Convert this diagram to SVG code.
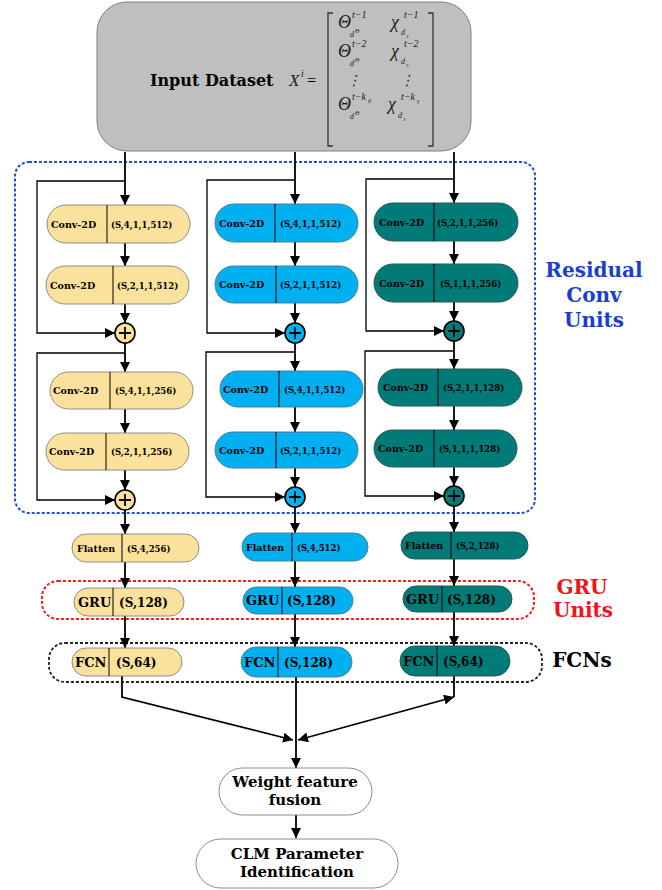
<svg xmlns="http://www.w3.org/2000/svg" width="662" height="890" viewBox="0 0 662 890">
<style>
.ln{stroke:#000;stroke-width:1.8;fill:none}
.lp{stroke:#000;stroke-width:1.3;fill:none}
.y{fill:#FBE29C;stroke:#8c8c8c;stroke-width:1}
.b{fill:#00B0F0;stroke:#4f7f92;stroke-width:1}
.t{fill:#007B78;stroke:#2f5756;stroke-width:1}
.dv{stroke:#000;stroke-width:1}
.pc{stroke:#000;stroke-width:1.6}
.pl{stroke:#000;stroke-width:1.8}
text{font-family:"DejaVu Serif","Liberation Serif",serif;font-weight:bold;fill:#000}
.c{font-size:9.5px}
.p{font-size:8.5px}
.g{font-size:13px}
.gp{font-size:12px}
.m{font-family:"Liberation Serif","DejaVu Serif",serif;font-weight:normal;font-style:italic;fill:#1a1a1a}
.lab{font-size:20px;text-anchor:middle}
.w{font-size:15px;text-anchor:middle}
</style>
<defs>
<marker id="ah" markerWidth="10" markerHeight="10" refX="10" refY="5" orient="auto-start-reverse" markerUnits="userSpaceOnUse"><path d="M0,0 L10,5 L0,10 z" fill="#000"/></marker>
</defs>

<g id="input">
<rect x="97" y="2" width="374" height="149" rx="30" fill="#BFBFBF" stroke="#808080" stroke-width="1"/>
<text x="150" y="86" style="font-size:16px">Input Dataset</text>
<text class="m" x="289" y="86" style="font-size:17px">X</text>
<text class="m" x="301" y="77" style="font-size:10px">i</text>
<text x="307" y="86" style="font-size:16px;font-weight:normal;font-family:'Liberation Serif',serif">=</text>
<path d="M333,13 H328 V146 H333 M428,13 H433 V146 H428" stroke="#333" stroke-width="1.3" fill="none"/>
<text class="m" x="338" y="28" style="font-size:18px">Θ</text>
<text class="m" x="352" y="18" style="font-size:10px">t−1</text>
<text class="m" x="350" y="37" style="font-size:8px">d</text>
<text class="m" x="355" y="33" style="font-size:6px">Θ</text>
<text class="m" x="391" y="28" style="font-size:18px">χ</text>
<text class="m" x="404" y="18" style="font-size:10px">t−1</text>
<text class="m" x="401" y="35" style="font-size:8px">d</text>
<text class="m" x="406" y="38" style="font-size:6px;fill:#1f4fbf">x</text>
<text class="m" x="338" y="57" style="font-size:18px">Θ</text>
<text class="m" x="352" y="47" style="font-size:10px">t−2</text>
<text class="m" x="350" y="66" style="font-size:8px">d</text>
<text class="m" x="355" y="62" style="font-size:6px">Θ</text>
<text class="m" x="391" y="57" style="font-size:18px">χ</text>
<text class="m" x="404" y="47" style="font-size:10px">t−2</text>
<text class="m" x="401" y="64" style="font-size:8px">d</text>
<text class="m" x="406" y="67" style="font-size:6px;fill:#1f4fbf">x</text>
<text class="m" x="347" y="85" style="font-size:14px">⋮</text>
<text class="m" x="400" y="85" style="font-size:14px">⋮</text>
<text class="m" x="338" y="110" style="font-size:18px">Θ</text>
<text class="m" x="352" y="100" style="font-size:10px">t−k</text>
<text class="m" x="368" y="103" style="font-size:6px">θ</text>
<text class="m" x="350" y="119" style="font-size:8px">d</text>
<text class="m" x="355" y="115" style="font-size:6px">Θ</text>
<text class="m" x="388" y="110" style="font-size:18px">χ</text>
<text class="m" x="401" y="100" style="font-size:10px">t−k</text>
<text class="m" x="417" y="103" style="font-size:6px">γ</text>
<text class="m" x="398" y="118" style="font-size:8px">d</text>
<text class="m" x="403" y="121" style="font-size:6px;fill:#1f4fbf">x</text>
</g>

<g id="groups">
<rect x="15" y="162" width="520" height="351" rx="14" fill="none" stroke="#1F4FD8" stroke-width="2" stroke-dasharray="3,2"/>
<rect x="42" y="581" width="492" height="38" rx="16" fill="none" stroke="#FF1A1A" stroke-width="2" stroke-dasharray="3,2"/>
<rect x="49" y="643" width="493" height="39" rx="16" fill="none" stroke="#222" stroke-width="1.8" stroke-dasharray="3,2"/>
<text class="lab" x="594" y="277" style="fill:#1A3FCF">Residual</text>
<text class="lab" x="594" y="302" style="fill:#1A3FCF">Conv</text>
<text class="lab" x="594" y="327" style="fill:#1A3FCF">Units</text>
<text class="lab" x="582" y="594" style="fill:#F01414">GRU</text>
<text class="lab" x="583" y="617" style="fill:#F01414">Units</text>
<text class="lab" x="582" y="667">FCNs</text>
</g>

<g id="connectors">
<path class="ln" d="M125,152 V205" marker-end="url(#ah)"/>
<path class="lp" d="M125,181 H37 V333 H115" marker-end="url(#ah)"/>
<path class="ln" d="M125,243 V266" marker-end="url(#ah)"/>
<path class="ln" d="M125,304 V323" marker-end="url(#ah)"/>
<path class="ln" d="M125,343 V372" marker-end="url(#ah)"/>
<path class="lp" d="M125,353 H37 V500 H115" marker-end="url(#ah)"/>
<path class="ln" d="M125,409 V433" marker-end="url(#ah)"/>
<path class="ln" d="M125,470 V490" marker-end="url(#ah)"/>
<path class="ln" d="M125,510 V534" marker-end="url(#ah)"/>
<path class="ln" d="M125,562 V588" marker-end="url(#ah)"/>
<path class="ln" d="M125,616 V648" marker-end="url(#ah)"/>
<path class="ln" d="M122,676 V697 L293,740" marker-end="url(#ah)"/>
<path class="ln" d="M295,152 V204" marker-end="url(#ah)"/>
<path class="lp" d="M295,180 H207 V333 H285" marker-end="url(#ah)"/>
<path class="ln" d="M295,242 V266" marker-end="url(#ah)"/>
<path class="ln" d="M295,303 V323" marker-end="url(#ah)"/>
<path class="ln" d="M295,343 V371" marker-end="url(#ah)"/>
<path class="lp" d="M295,352 H206 V497 H285" marker-end="url(#ah)"/>
<path class="ln" d="M295,407 V432" marker-end="url(#ah)"/>
<path class="ln" d="M295,468 V487" marker-end="url(#ah)"/>
<path class="ln" d="M295,507 V533" marker-end="url(#ah)"/>
<path class="ln" d="M295,561 V587" marker-end="url(#ah)"/>
<path class="ln" d="M295,614 V647" marker-end="url(#ah)"/>
<path class="ln" d="M296,677 V768" marker-end="url(#ah)"/>
<path class="ln" d="M454,152 V203" marker-end="url(#ah)"/>
<path class="lp" d="M454,179 H366 V331 H444" marker-end="url(#ah)"/>
<path class="ln" d="M454,241 V264" marker-end="url(#ah)"/>
<path class="ln" d="M454,302 V321" marker-end="url(#ah)"/>
<path class="ln" d="M454,341 V369" marker-end="url(#ah)"/>
<path class="lp" d="M454,351 H365 V496 H444" marker-end="url(#ah)"/>
<path class="ln" d="M454,406 V430" marker-end="url(#ah)"/>
<path class="ln" d="M454,467 V486" marker-end="url(#ah)"/>
<path class="ln" d="M454,506 V532" marker-end="url(#ah)"/>
<path class="ln" d="M454,559 V586" marker-end="url(#ah)"/>
<path class="ln" d="M454,612 V646" marker-end="url(#ah)"/>
<path class="ln" d="M454,676 V697"/>
<path class="ln" d="M298,740 L454,697" marker-start="url(#ah)" marker-end="url(#ah)"/>
<path class="ln" d="M296,815 V838" marker-end="url(#ah)"/>
</g>

<g id="c1-conv1"><rect class="y" x="47" y="205" width="143" height="38" rx="19"/><line class="dv" x1="107" y1="205" x2="107" y2="243"/><text class="c" x="51" y="227.5">Conv-2D</text><text class="p" x="111" y="227.5">(S,4,1,1,512)</text></g>
<g id="c1-conv2"><rect class="y" x="46" y="266" width="143" height="38" rx="19"/><line class="dv" x1="113" y1="266" x2="113" y2="304"/><text class="c" x="50" y="288.5">Conv-2D</text><text class="p" x="117" y="288.5">(S,2,1,1,512)</text></g>
<g id="c1-add1"><circle class="y pc" cx="125" cy="333" r="10"/><path class="pl" d="M119,333 H131 M125,327 V339"/></g>
<g id="c1-conv3"><rect class="y" x="50" y="372" width="143" height="37" rx="18.5"/><line class="dv" x1="110" y1="372" x2="110" y2="409"/><text class="c" x="53" y="393.5">Conv-2D</text><text class="p" x="115" y="393.5">(S,4,1,1,256)</text></g>
<g id="c1-conv4"><rect class="y" x="46" y="433" width="143" height="37" rx="18.5"/><line class="dv" x1="106" y1="433" x2="106" y2="470"/><text class="c" x="49" y="454.5">Conv-2D</text><text class="p" x="111" y="454.5">(S,2,1,1,256)</text></g>
<g id="c1-add2"><circle class="y pc" cx="125" cy="500" r="10"/><path class="pl" d="M119,500 H131 M125,494 V506"/></g>
<g id="c1-flatten"><rect class="y" x="72" y="534" width="127" height="28" rx="14"/><line class="dv" x1="122" y1="534" x2="122" y2="562"/><text class="c" x="77" y="551.5">Flatten</text><text class="p" x="127" y="551.5">(S,4,256)</text></g>
<g id="c1-gru"><rect class="y" x="74" y="588" width="110" height="28" rx="14"/><line class="dv" x1="113" y1="588" x2="113" y2="616"/><text class="g" x="78" y="606.5">GRU</text><text class="gp" x="119" y="606.5">(S,128)</text></g>
<g id="c1-fcn"><rect class="y" x="72" y="648" width="110" height="28" rx="14"/><line class="dv" x1="109" y1="648" x2="109" y2="676"/><text class="g" x="75" y="666.5">FCN</text><text class="gp" x="116" y="666.5">(S,64)</text></g>

<g id="c2-conv1"><rect class="b" x="215" y="204" width="143" height="38" rx="19"/><line class="dv" x1="275" y1="204" x2="275" y2="242"/><text class="c" x="219" y="226.5">Conv-2D</text><text class="p" x="280" y="226.5">(S,4,1,1,512)</text></g>
<g id="c2-conv2"><rect class="b" x="215" y="266" width="143" height="37" rx="18.5"/><line class="dv" x1="276" y1="266" x2="276" y2="303"/><text class="c" x="219" y="288">Conv-2D</text><text class="p" x="280" y="288">(S,2,1,1,512)</text></g>
<g id="c2-add1"><circle class="b pc" cx="295" cy="333" r="10"/><path class="pl" d="M289,333 H301 M295,327 V339"/></g>
<g id="c2-conv3"><rect class="b" x="220" y="371" width="143" height="36" rx="18"/><line class="dv" x1="279" y1="371" x2="279" y2="407"/><text class="c" x="223" y="392.5">Conv-2D</text><text class="p" x="284" y="392.5">(S,4,1,1,512)</text></g>
<g id="c2-conv4"><rect class="b" x="215" y="432" width="143" height="36" rx="18"/><line class="dv" x1="276" y1="432" x2="276" y2="468"/><text class="c" x="219" y="453.5">Conv-2D</text><text class="p" x="280" y="453.5">(S,2,1,1,512)</text></g>
<g id="c2-add2"><circle class="b pc" cx="295" cy="497" r="10"/><path class="pl" d="M289,497 H301 M295,491 V503"/></g>
<g id="c2-flatten"><rect class="b" x="242" y="533" width="126" height="28" rx="14"/><line class="dv" x1="292" y1="533" x2="292" y2="561"/><text class="c" x="246" y="550.5">Flatten</text><text class="p" x="297" y="550.5">(S,4,512)</text></g>
<g id="c2-gru"><rect class="b" x="243" y="587" width="110" height="27" rx="13.5"/><line class="dv" x1="282" y1="587" x2="282" y2="614"/><text class="g" x="246" y="605">GRU</text><text class="gp" x="287" y="605">(S,128)</text></g>
<g id="c2-fcn"><rect class="b" x="241" y="647" width="111" height="30" rx="15"/><line class="dv" x1="278" y1="647" x2="278" y2="677"/><text class="g" x="244" y="666.5">FCN</text><text class="gp" x="284" y="666.5">(S,128)</text></g>

<g id="c3-conv1"><rect class="t" x="374" y="203" width="144" height="38" rx="19"/><line class="dv" x1="434" y1="203" x2="434" y2="241"/><text class="c" x="379" y="225.5">Conv-2D</text><text class="p" x="437" y="225.5">(S,2,1,1,256)</text></g>
<g id="c3-conv2"><rect class="t" x="374" y="264" width="144" height="38" rx="19"/><line class="dv" x1="434" y1="264" x2="434" y2="302"/><text class="c" x="379" y="286.5">Conv-2D</text><text class="p" x="440" y="286.5">(S,1,1,1,256)</text></g>
<g id="c3-add1"><circle class="t pc" cx="454" cy="331" r="10"/><path class="pl" d="M448,331 H460 M454,325 V337"/></g>
<g id="c3-conv3"><rect class="t" x="378" y="369" width="144" height="37" rx="18.5"/><line class="dv" x1="438" y1="369" x2="438" y2="406"/><text class="c" x="383" y="391">Conv-2D</text><text class="p" x="443" y="391">(S,2,1,1,128)</text></g>
<g id="c3-conv4"><rect class="t" x="374" y="430" width="143" height="37" rx="18.5"/><line class="dv" x1="434" y1="430" x2="434" y2="467"/><text class="c" x="378" y="452">Conv-2D</text><text class="p" x="439" y="452">(S,1,1,1,128)</text></g>
<g id="c3-add2"><circle class="t pc" cx="454" cy="496" r="10"/><path class="pl" d="M448,496 H460 M454,490 V502"/></g>
<g id="c3-flatten"><rect class="t" x="401" y="532" width="127" height="27" rx="13.5"/><line class="dv" x1="451" y1="532" x2="451" y2="559"/><text class="c" x="405" y="549">Flatten</text><text class="p" x="456" y="549">(S,2,128)</text></g>
<g id="c3-gru"><rect class="t" x="403" y="586" width="109" height="26" rx="13"/><line class="dv" x1="442" y1="586" x2="442" y2="612"/><text class="g" x="406" y="603.5">GRU</text><text class="gp" x="447" y="603.5">(S,128)</text></g>
<g id="c3-fcn"><rect class="t" x="400" y="646" width="110" height="30" rx="15"/><line class="dv" x1="437" y1="646" x2="437" y2="676"/><text class="g" x="403" y="665.5">FCN</text><text class="gp" x="443" y="665.5">(S,64)</text></g>

<g id="fusion"><rect x="219" y="768" width="153" height="47" rx="23.5" fill="#fff" stroke="#8c8c8c" stroke-width="1"/><text class="w" x="295" y="787">Weight feature</text><text class="w" x="295" y="805">fusion</text></g>
<g id="clm"><rect x="196" y="839" width="202" height="49" rx="24.5" fill="#fff" stroke="#8c8c8c" stroke-width="1"/><text class="w" x="297" y="859">CLM Parameter</text><text class="w" x="297" y="877">Identification</text></g>
</svg>
